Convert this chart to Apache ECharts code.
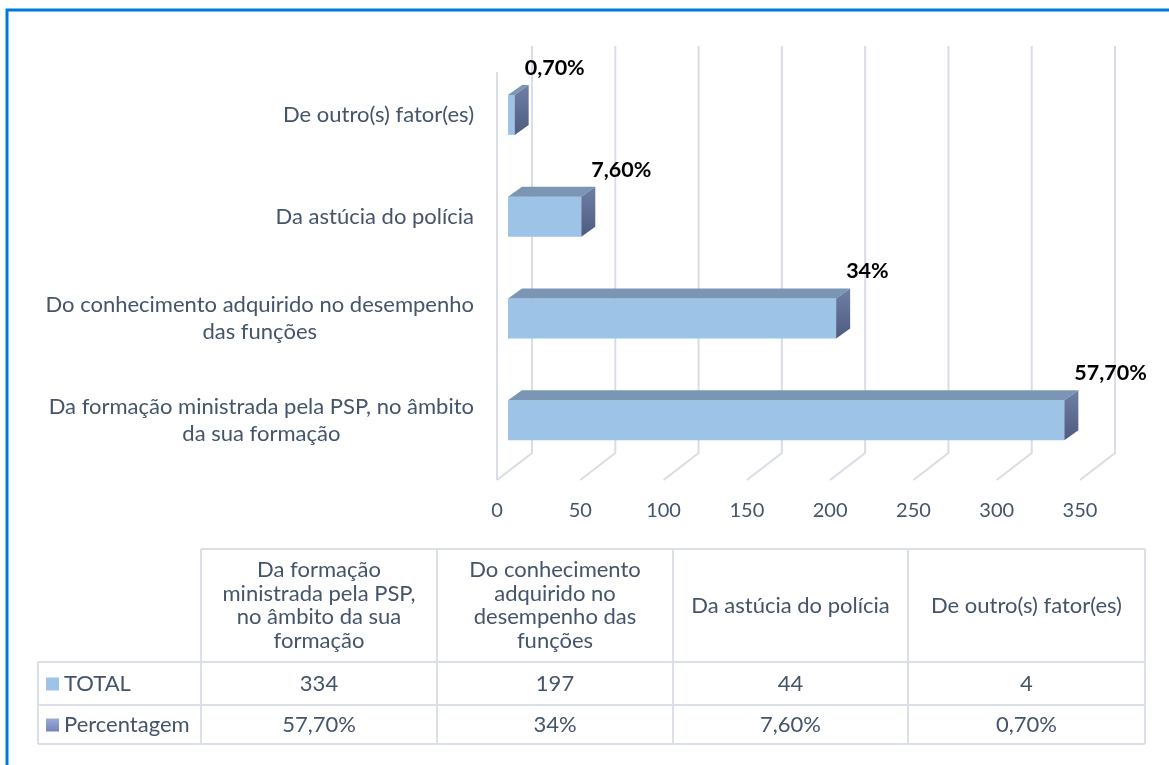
<!DOCTYPE html>
<html>
<head>
<meta charset="utf-8">
<script src="https://cdn.jsdelivr.net/npm/echarts@6/dist/echarts.min.js"></script>
<style>
  html, body { margin: 0; padding: 0; background: #fff; }
  #main { width: 1169px; height: 765px; }
</style>
</head>
<body>
<div id="main"></div>
<script>
  // categorias, de baixo para cima (mesma ordem da tabela)
  var categorias = [
    'Da formação ministrada pela PSP, no âmbito da sua formação',
    'Do conhecimento adquirido no desempenho das funções',
    'Da astúcia do polícia',
    'De outro(s) fator(es)'
  ];
  // quebras de linha como aparecem no eixo
  var rotulosEixo = [
    'Da formação ministrada pela PSP, no âmbito\nda sua formação',
    'Do conhecimento adquirido no desempenho\ndas funções',
    'Da astúcia do polícia',
    'De outro(s) fator(es)'
  ];
  // quebras de linha como aparecem no cabeçalho da tabela
  var cabecalhos = [
    'Da formação\nministrada pela PSP,\nno âmbito da sua\nformação',
    'Do conhecimento\nadquirido no\ndesempenho das\nfunções',
    'Da astúcia do polícia',
    'De outro(s) fator(es)'
  ];
  var total = [334, 197, 44, 4];
  var percentagem = [57.7, 34, 7.6, 0.7];
  var ticksX = [0, 50, 100, 150, 200, 250, 300, 350];

  var corTexto = '#44546a';
  var corGrelha = '#d9dde6';
  var fonte = 'Lato, "Noto Sans", sans-serif';

  function fmtPct(v) {
    var s = (v % 1 === 0) ? String(v) : v.toFixed(2);
    return s.replace('.', ',') + '%';
  }

  // paredes e chão do gráfico 3D (linhas de grelha)
  function desenhaGrelha(params, api) {
    var v = api.value(0);
    var cs = params.coordSys;
    var x = api.coord([v, 0])[0];
    var base = cs.y + cs.height;
    var filhos = [{
      type: 'polyline',
      shape: { points: [[x - 11, base + 9], [x + 24, base - 18], [x + 24, cs.y - 18]] },
      style: { stroke: corGrelha, lineWidth: 2, fill: null }
    }];
    if (v === 0) {
      filhos.push({
        type: 'line',
        shape: { x1: x - 11, y1: cs.y + 8, x2: x - 11, y2: base + 9 },
        style: { stroke: corGrelha, lineWidth: 2 }
      });
    }
    return { type: 'group', children: filhos };
  }

  // barra 3D: frente, topo, lado + rótulo da percentagem
  function desenhaBarra(params, api) {
    var v = api.value(0);
    var cat = api.value(1);
    var p0 = api.coord([0, cat]);
    var p1 = api.coord([v, cat]);
    var h = 40, dx = 14, dy = 10;
    var x0 = p0[0], x1 = p1[0];
    var yt = p0[1] - h / 2, yb = p0[1] + h / 2;
    return {
      type: 'group',
      children: [
        {
          type: 'rect',
          shape: { x: x0, y: yt, width: x1 - x0, height: h },
          style: { fill: '#9dc3e6' }
        },
        {
          type: 'polygon',
          shape: { points: [[x0, yt], [x1, yt], [x1 + dx, yt - dy], [x0 + dx, yt - dy]] },
          style: { fill: '#7b96b4' }
        },
        {
          type: 'polygon',
          shape: { points: [[x1, yt], [x1 + dx, yt - dy], [x1 + dx, yb - dy], [x1, yb]] },
          style: {
            fill: new echarts.graphic.LinearGradient(0, 0, 0, 1, [
              { offset: 0, color: '#6e80a6' },
              { offset: 1, color: '#4e5b80' }
            ])
          }
        },
        {
          type: 'text',
          x: x1 + dx - 4,
          y: yt - dy - 17,
          style: {
            text: fmtPct(percentagem[params.dataIndex]),
            font: 'bold 21.5px ' + fonte,
            fill: '#000',
            align: 'left',
            verticalAlign: 'middle'
          }
        }
      ]
    };
  }

  // tabela de dados por baixo do gráfico
  var colX = [38, 201, 437, 673, 908, 1145];
  var linY = [549, 662, 705, 744];
  var tabela = [];
  function linha(x1, y1, x2, y2) {
    tabela.push({
      type: 'line',
      shape: { x1: x1, y1: y1, x2: x2, y2: y2 },
      style: { stroke: '#dbe0e8', lineWidth: 2 }
    });
  }
  function texto(x, y, t, align) {
    tabela.push({
      type: 'text',
      x: x, y: y,
      style: {
        text: t, font: '22px ' + fonte, fill: corTexto,
        align: align || 'center', verticalAlign: 'middle', lineHeight: 23.7
      }
    });
  }
  linha(colX[1], linY[0], colX[5], linY[0]);
  for (var r = 1; r < linY.length; r++) linha(colX[0], linY[r], colX[5], linY[r]);
  linha(colX[0], linY[1], colX[0], linY[3]);
  for (var c = 1; c < colX.length; c++) linha(colX[c], linY[0], colX[c], linY[3]);
  var series = [
    { nome: 'TOTAL', valores: total.map(String), cor: '#9dc3e6' },
    { nome: 'Percentagem', valores: percentagem.map(fmtPct),
      cor: new echarts.graphic.LinearGradient(0, 0, 0, 1, [
        { offset: 0, color: '#9aaad8' }, { offset: 1, color: '#7485bd' }
      ]) }
  ];
  for (var j = 0; j < cabecalhos.length; j++) {
    var cx = (colX[j + 1] + colX[j + 2]) / 2;
    texto(cx, (linY[0] + linY[1]) / 2, cabecalhos[j]);
    for (var s = 0; s < series.length; s++) {
      texto(cx, (linY[s + 1] + linY[s + 2]) / 2, series[s].valores[j]);
    }
  }
  for (var s2 = 0; s2 < series.length; s2++) {
    var cy = (linY[s2 + 1] + linY[s2 + 2]) / 2;
    tabela.push({
      type: 'rect',
      shape: { x: 46, y: cy - 6, width: 13, height: 13 },
      style: { fill: series[s2].cor }
    });
    texto(64, cy, series[s2].nome, 'left');
  }

  var myChart = echarts.init(document.getElementById('main'));
  myChart.setOption({
    animation: false,
    backgroundColor: '#fff',
    grid: { left: 508, top: 64, width: 583, height: 407 },
    xAxis: {
      type: 'value',
      min: 0,
      max: 350,
      interval: 50,
      axisLine: { show: false },
      axisTick: { show: false },
      splitLine: { show: false },
      axisLabel: {
        margin: 30,
        padding: [0, 22, 0, 0],
        color: corTexto,
        fontSize: 20,
        fontFamily: fonte
      }
    },
    yAxis: {
      type: 'category',
      data: categorias,
      axisLine: { show: false },
      axisTick: { show: false },
      axisLabel: {
        margin: 34,
        formatter: function (val, idx) {
          return rotulosEixo[idx].split('\n').map(function (l) { return '{c|' + l + '}'; }).join('\n');
        },
        rich: {
          c: { align: 'center', color: corTexto, fontSize: 22, lineHeight: 27, fontFamily: fonte }
        }
      }
    },
    series: [
      {
        type: 'custom',
        name: 'grelha',
        data: ticksX.map(function (t) { return [t]; }),
        encode: { x: 0 },
        renderItem: desenhaGrelha,
        silent: true,
        z: 1
      },
      {
        type: 'custom',
        name: 'TOTAL',
        data: total.map(function (v, i) { return [v, i]; }),
        encode: { x: 0, y: 1 },
        renderItem: desenhaBarra,
        z: 2
      }
    ],
    graphic: [
      {
        type: 'rect',
        x: 7, y: 10,
        shape: { width: 1300, height: 900 },
        style: { fill: null, stroke: '#0078d7', lineWidth: 3 },
        silent: true
      },
      { type: 'group', x: 0, y: 0, children: tabela }
    ]
  });
</script>
</body>
</html>
